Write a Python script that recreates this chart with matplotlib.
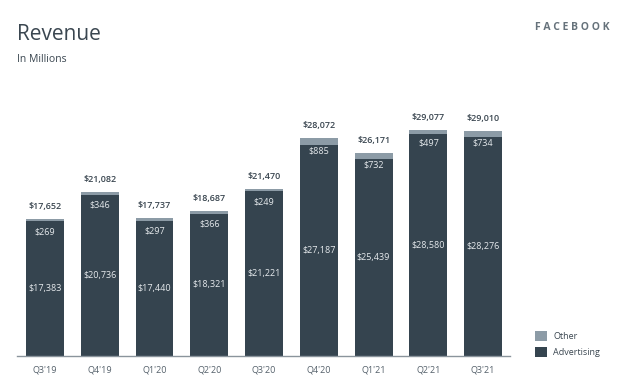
import matplotlib.pyplot as plt
import numpy as np

quarters = ["Q3'19", "Q4'19", "Q1'20", "Q2'20", "Q3'20", "Q4'20", "Q1'21", "Q2'21", "Q3'21"]
advertising = [17383, 20736, 17440, 18321, 21221, 27187, 25439, 28580, 28276]
other = [269, 346, 297, 366, 249, 885, 732, 497, 734]
totals = [17652, 21082, 17737, 18687, 21470, 28072, 26171, 29077, 29010]

ad_color = '#35444f'
other_color = '#8c9ba6'
text_color = '#3a4650'

plt.rcParams['font.family'] = ['Open Sans', 'DejaVu Sans']

fig = plt.figure(figsize=(6.3, 3.86), dpi=100)
ax = fig.add_axes([17 / 630, 30 / 386, 493 / 630, 256 / 386])

x = np.arange(len(quarters))
w = 0.69
ax.bar(x, advertising, w, color=ad_color, label='Advertising')
ax.bar(x, other, w, bottom=advertising, color=other_color, label='Other')

ax.set_xlim(-0.51, 8.49)
ax.set_ylim(0, 33000)

for i in range(len(quarters)):
    top = advertising[i] + other[i]
    ax.text(x[i], advertising[i] / 2, f'${advertising[i]:,}', ha='center', va='center',
            color='#e6eaed', fontsize=6.5)
    ax.annotate(f'${other[i]:,}', (x[i], top), xytext=(0, -9), textcoords='offset points',
                ha='center', va='center', color='#e6eaed', fontsize=6.5)
    ax.annotate(f'${totals[i]:,}', (x[i], top), xytext=(0, 9), textcoords='offset points',
                ha='center', va='center', color=text_color, fontsize=6.5, fontweight='semibold')

for s in ['top', 'right', 'left']:
    ax.spines[s].set_visible(False)
ax.spines['bottom'].set_color('#8a949c')
ax.spines['bottom'].set_linewidth(1.0)
ax.set_yticks([])
ax.set_xticks(x)
ax.set_xticklabels(quarters, fontsize=6.5, color='#55616b')
ax.tick_params(axis='x', length=0, pad=7)

fig.text(17 / 630, 1 - 35 / 386, 'Revenue', fontsize=15, color=text_color, va='center')
fig.text(17 / 630, 1 - 60 / 386, 'In Millions', fontsize=7.5, color=text_color, va='center')
fig.text(610 / 630, 1 - 27 / 386, 'F A C E B O O K', fontsize=7.5, color='#66727b',
         ha='right', va='center', fontweight='bold')

handles, labels = ax.get_legend_handles_labels()
fig.legend(handles[::-1], labels[::-1], loc='center left', bbox_to_anchor=(527 / 630, 1 - 344 / 386),
           frameon=False, fontsize=6.5, handlelength=1.3, handleheight=1.3,
           labelspacing=0.7, handletextpad=0.7, labelcolor=text_color)

fig.savefig('out.png', dpi=100)
